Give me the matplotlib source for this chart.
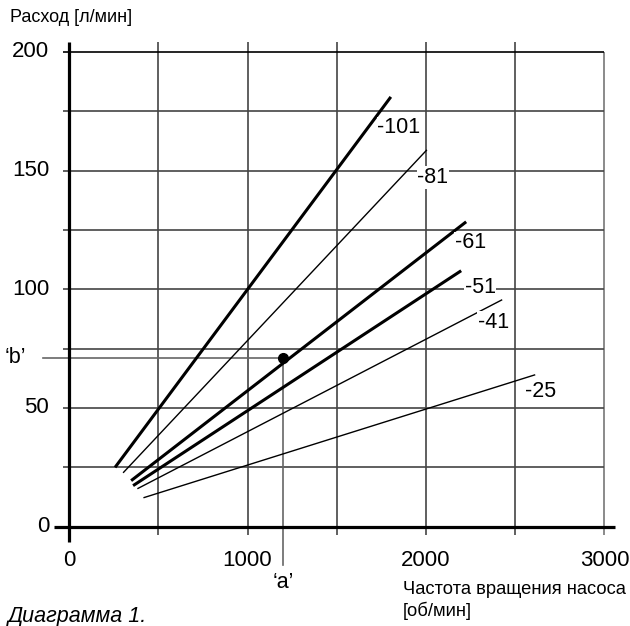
import matplotlib
matplotlib.use("Agg")
import matplotlib.pyplot as plt

# ---------------- data ----------------
series = ["-101", "-81", "-61", "-51", "-41", "-25"]
rpm_start = [258, 303, 348, 359, 383, 417]
rpm_end = [1803, 2005, 2225, 2197, 2427, 2612]
flow_start = [25.0, 22.7, 19.4, 17.3, 16.0, 12.2]
flow_end = [181.0, 158.7, 128.4, 107.8, 95.6, 64.0]
thick = [True, False, True, True, False, False]

x_ticks = [0, 1000, 2000, 3000]
y_ticks = [0, 50, 100, 150, 200]
x_grid = [500, 1000, 1500, 2000, 2500, 3000]
y_grid = [25, 50, 75, 100, 125, 150, 175, 200]

point_rpm = 1200   # 'a'
point_flow = 71.2  # 'b'

# label positions (layout only)
label_pos = [(1848, 168), (2039, 147), (2247, 119.6), (2303, 100.6), (2377, 86), (2640, 57)]

# ---------------- figure ----------------
W, H = 630, 626
fig = plt.figure(figsize=(W / 100, H / 100), dpi=100)
ax = fig.add_axes([0, 0, 1, 1])
ax.set_xlim(-386.6, 3142.9)
ax.set_ylim(-41.8, 221.8)
ax.axis("off")

FONT = "Liberation Sans"
fs = 15.5
fs_tick = 16
grid_c = "#444444"

# grid
for g in x_grid:
    top = 200 if g == 3000 else 204
    ax.plot([g, g], [-3.5, top], color=grid_c if g != 3000 else "#777777", lw=1.2, zorder=1, solid_capstyle="butt")
for g in y_grid:
    ax.plot([-34, 3000], [g, g], color=grid_c if g != 200 else "black", lw=1.2, zorder=1, solid_capstyle="butt")

# axes
ax.plot([-84, 3059], [0, 0], color="black", lw=2.3, zorder=3, solid_capstyle="butt")
ax.plot([0, 0], [-6.4, 204], color="black", lw=2.3, zorder=3, solid_capstyle="butt")

# pump lines
for name, x0, x1, y0, y1, tk in zip(series, rpm_start, rpm_end, flow_start, flow_end, thick):
    ax.plot([x0, x1], [y0, y1], color="black", lw=2.2 if tk else 1.0, zorder=4, solid_capstyle="butt")

for name, (lx, ly) in zip(series, label_pos):
    ax.text(lx, ly, name, fontsize=fs, family=FONT, ha="center", va="center", zorder=5,
            bbox=dict(facecolor="white", edgecolor="none", pad=0.5))

# operating point
ax.plot([point_rpm, point_rpm], [-16, point_flow], color="#666666", lw=1.2, zorder=2)
ax.plot([-146, point_rpm], [point_flow, point_flow], color="#666666", lw=1.2, zorder=2)
ax.plot([point_rpm], [point_flow], "o", color="black", ms=7, zorder=6)

# tick labels
for t in y_ticks:
    ax.text(-112, t, str(t), fontsize=fs_tick, family=FONT, ha="right", va="center")
for t in x_ticks:
    ax.text(t, -14.4, str(t), fontsize=fs_tick, family=FONT, ha="center", va="center")

ax.text(-303, point_flow, "\u2018b\u2019", fontsize=fs, family=FONT, ha="center", va="center")
ax.text(point_rpm, -23.5, "\u2018a\u2019", fontsize=fs, family=FONT, ha="center", va="center")

ax.text(-330, 214.6, "Расход [л/мин]", fontsize=13, family=FONT, ha="left", va="center")
ax.text(1870, -26.3, "Частота вращения насоса", fontsize=13.2, family=FONT, ha="left", va="center")
ax.text(1870, -35.4, "[об/мин]", fontsize=13.2, family=FONT, ha="left", va="center")
ax.text(-342, -38.0, "Диаграмма 1.", fontsize=15.5, family=FONT, style="italic", ha="left", va="center")

fig.savefig("out.png", dpi=100)
